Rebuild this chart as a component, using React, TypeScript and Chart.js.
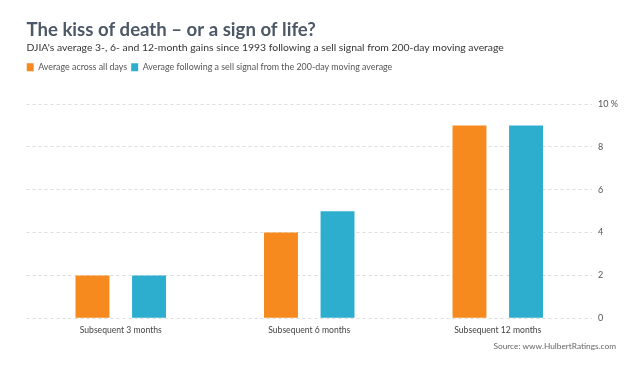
import React, { useEffect, useRef } from 'react';
import { Chart, registerables } from 'chart.js';

Chart.register(...registerables);

const categories = ['Subsequent 3 months', 'Subsequent 6 months', 'Subsequent 12 months'];
const seriesNames = [
  'Average across all days',
  'Average following a sell signal from the 200-day moving average',
];
const allDaysValues = [2, 4, 9];
const sellSignalValues = [2, 5, 9];
const yMin = 0;
const yMax = 10;
const yStep = 2;
const yUnit = ' %';
const titleText = 'The kiss of death – or a sign of life?';
const subtitleText =
  "DJIA's average 3-, 6- and 12-month gains since 1993 following a sell signal from 200-day moving average";
const sourceText = 'Source: www.HulbertRatings.com';

const ORANGE = '#f68a1f';
const BLUE = '#2eaecf';
const FONT = 'Lato';

const TITLE_SIZE = 18.6;
const TITLE_PAD = 19;
const SUB_SIZE = 10.4;
const SUB_PAD = 0;
const CHART_TOP = 104;
const LEGEND_H = CHART_TOP - (TITLE_PAD + TITLE_SIZE * 1.2 + SUB_PAD + SUB_SIZE * 1.2);

const tweakPlugin = {
  id: 'tweakLayout',
  beforeInit(chart: any) {
    const lg = chart.legend;
    if (lg && !lg.__patched) {
      const orig = lg.fit;
      lg.fit = function () {
        orig.call(this);
        this.height = LEGEND_H;
      };
      lg.__patched = true;
    }
  },
  afterLayout(chart: any) {
    const lg = chart.legend;
    if (lg) {
      lg.left = 22.7;
      lg.top = 58.8;
    }
  },
  afterDraw(chart: any) {
    const ctx = chart.ctx;
    ctx.save();
    ctx.font = `8.3px ${FONT}`;
    ctx.fillStyle = '#666';
    ctx.textAlign = 'right';
    ctx.textBaseline = 'middle';
    ctx.fillText(sourceText, 616, 346);
    ctx.restore();
  },
};

export default function App() {
  const canvasRef = useRef<HTMLCanvasElement | null>(null);

  useEffect(() => {
    if (!canvasRef.current) return;
    const chart = new Chart(canvasRef.current, {
      type: 'bar',
      data: {
        labels: categories,
        datasets: [
          {
            label: seriesNames[0],
            data: allDaysValues,
            backgroundColor: ORANGE,
            borderWidth: 0,
            categoryPercentage: 0.6,
            barPercentage: 0.6,
          },
          {
            label: seriesNames[1],
            data: sellSignalValues,
            backgroundColor: BLUE,
            borderWidth: 0,
            categoryPercentage: 0.6,
            barPercentage: 0.6,
          },
        ],
      },
      options: {
        responsive: true,
        maintainAspectRatio: false,
        animation: false,
        events: [],
        layout: { padding: { left: 26.5, right: 0, top: 0, bottom: 23.7 } },
        plugins: {
          title: {
            display: true,
            text: titleText,
            align: 'start',
            color: '#4d5866',
            font: { family: FONT, size: TITLE_SIZE, weight: 'bold', lineHeight: 1.2 },
            padding: { top: TITLE_PAD, bottom: 0 },
          },
          subtitle: {
            display: true,
            text: subtitleText,
            align: 'start',
            color: '#333',
            font: { family: FONT, size: SUB_SIZE, lineHeight: 1.2 },
            padding: { top: SUB_PAD, bottom: 0 },
          },
          legend: {
            display: true,
            position: 'top',
            align: 'start',
            labels: {
              boxWidth: 7,
              boxHeight: 8,
              padding: 4,
              color: '#555',
              font: { family: FONT, size: 8.9 },
            },
          },
          tooltip: { enabled: false },
        },
        scales: {
          x: {
            grid: { display: false, drawTicks: false },
            border: { display: false },
            ticks: {
              color: '#444',
              padding: 7,
              font: { family: FONT, size: 8.6 },
            },
            afterFit(scale: any) {
              scale.height = 24;
            },
          },
          y: {
            position: 'right',
            min: yMin,
            max: yMax,
            grid: { color: '#dddddd', drawTicks: false, lineWidth: 1 },
            border: { display: false, dash: [3, 3] },
            ticks: {
              stepSize: yStep,
              padding: 6,
              color: '#555',
              font: { family: FONT, size: 9 },
              callback: (v: any) => (Number(v) === yMax ? `${v}${yUnit}` : `${v}`),
            },
            afterFit(scale: any) {
              scale.width = 48;
            },
          },
        },
      },
      plugins: [tweakPlugin],
    });
    return () => chart.destroy();
  }, []);

  return (
    <div
      style={{
        position: 'fixed',
        left: 0,
        top: 0,
        width: 640,
        height: 366,
        background: '#fff',
      }}
    >
      <canvas ref={canvasRef} />
    </div>
  );
}
